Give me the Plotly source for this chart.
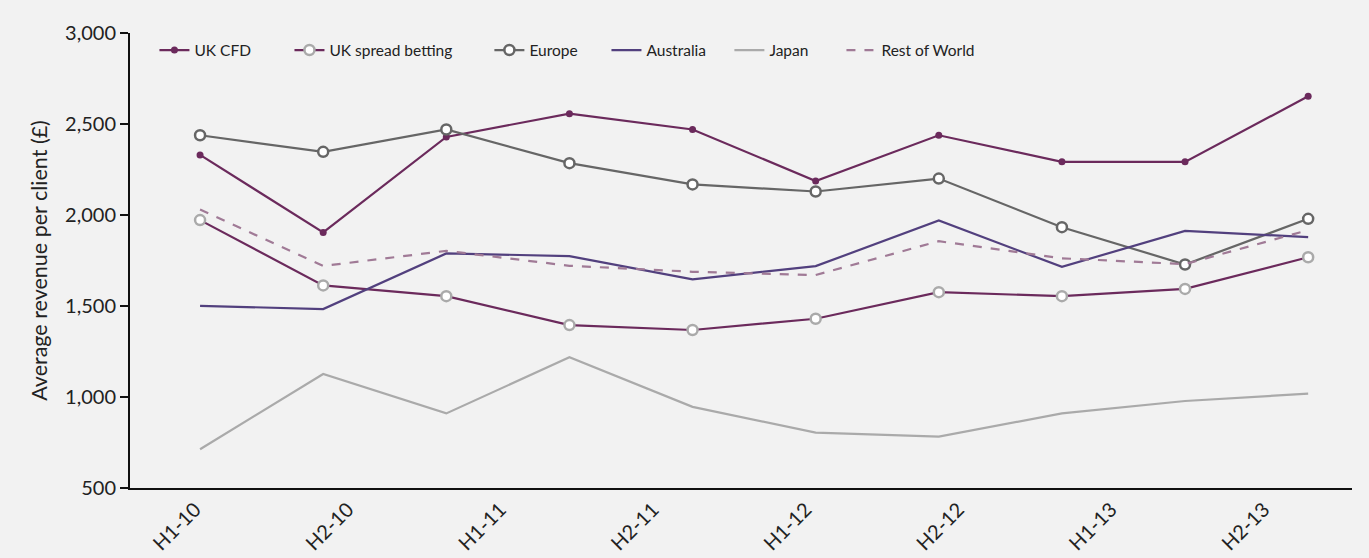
import plotly.graph_objects as go

periods = list(range(10))
tick_labels = ["H1-10", "H2-10", "H1-11", "H2-11", "H1-12", "H2-12", "H1-13", "H2-13"]

uk_cfd = [2330, 1904, 2429, 2557, 2470, 2187, 2438, 2292, 2292, 2652]
uk_spread = [1972, 1613, 1554, 1395, 1368, 1430, 1576, 1554, 1594, 1768]
europe = [2438, 2347, 2470, 2285, 2168, 2129, 2200, 1933, 1728, 1979]
australia = [1501, 1483, 1789, 1774, 1646, 1719, 1970, 1715, 1913, 1878]
japan = [713, 1126, 910, 1218, 946, 804, 782, 910, 978, 1018]
rest_of_world = [2030, 1720, 1803, 1721, 1688, 1670, 1856, 1762, 1730, 1917]

PURPLE = "#6b2a5c"
INDIGO = "#52407e"
DGRAY = "#666666"
LGRAY = "#aaaaaa"
MAUVE = "#a07a96"

fig = go.Figure()
fig.add_trace(go.Scatter(x=periods, y=uk_cfd, name="UK CFD", mode="lines+markers",
                         legend="legend",
                         line=dict(color=PURPLE, width=2.2),
                         marker=dict(color=PURPLE, size=7)))
fig.add_trace(go.Scatter(x=periods, y=uk_spread, name="UK spread betting", mode="lines+markers",
                         legend="legend2",
                         line=dict(color=PURPLE, width=2.2),
                         marker=dict(color="white", size=10, line=dict(color=LGRAY, width=2.5))))
fig.add_trace(go.Scatter(x=periods, y=europe, name="Europe", mode="lines+markers",
                         legend="legend3",
                         line=dict(color=DGRAY, width=2.2),
                         marker=dict(color="white", size=10, line=dict(color=DGRAY, width=2.5))))
fig.add_trace(go.Scatter(x=periods, y=australia, name="Australia", mode="lines",
                         legend="legend4",
                         line=dict(color=INDIGO, width=2.2)))
fig.add_trace(go.Scatter(x=periods, y=japan, name="Japan", mode="lines",
                         legend="legend5",
                         line=dict(color=LGRAY, width=2.2)))
fig.add_trace(go.Scatter(x=periods, y=rest_of_world, name="Rest of World", mode="lines",
                         legend="legend6",
                         line=dict(color=MAUVE, width=2.2, dash="dash")))

tick_positions = [i * 1.24 - 0.04 for i in range(len(tick_labels))]


def leg(xpos):
    return dict(orientation="h", x=xpos, y=0.999, xanchor="left", yanchor="top",
                font=dict(size=15.5, color="#222222"), bgcolor="rgba(0,0,0,0)")


fig.update_layout(
    width=1369, height=558,
    paper_bgcolor="#f2f2f2", plot_bgcolor="#f2f2f2",
    margin=dict(l=130, r=17, t=33, b=70),
    font=dict(family="Lato, Noto Sans, sans-serif", color="#222222"),
    showlegend=True,
    legend=leg(0.0200),
    legend2=leg(0.1305),
    legend3=leg(0.2941),
    legend4=leg(0.3899),
    legend5=leg(0.4905),
    legend6=leg(0.5822),
    xaxis=dict(range=[-0.569, 9.356], tickmode="array", tickvals=tick_positions,
               ticktext=tick_labels, tickangle=-45, showgrid=False, zeroline=False,
               showline=True, linecolor="#111111", linewidth=2, ticks="", automargin=False,
               tickfont=dict(size=20, color="#222222")),
    yaxis=dict(range=[500, 3000], tickmode="array", tickvals=[500, 1000, 1500, 2000, 2500, 3000],
               tickformat=",d", showgrid=False, zeroline=False, showline=True, automargin=False,
               linecolor="#111111", linewidth=2, ticks="outside", ticklen=8, tickwidth=2,
               tickcolor="#111111", tickfont=dict(size=20, color="#222222"),
               title=dict(text="Average revenue per client (£)", font=dict(size=21.5, color="#222222"),
                          standoff=12)),
)

fig.write_html("out.html", config={"displayModeBar": False},
               post_script="document.body.style.margin='0';document.body.style.background='#f2f2f2';")
